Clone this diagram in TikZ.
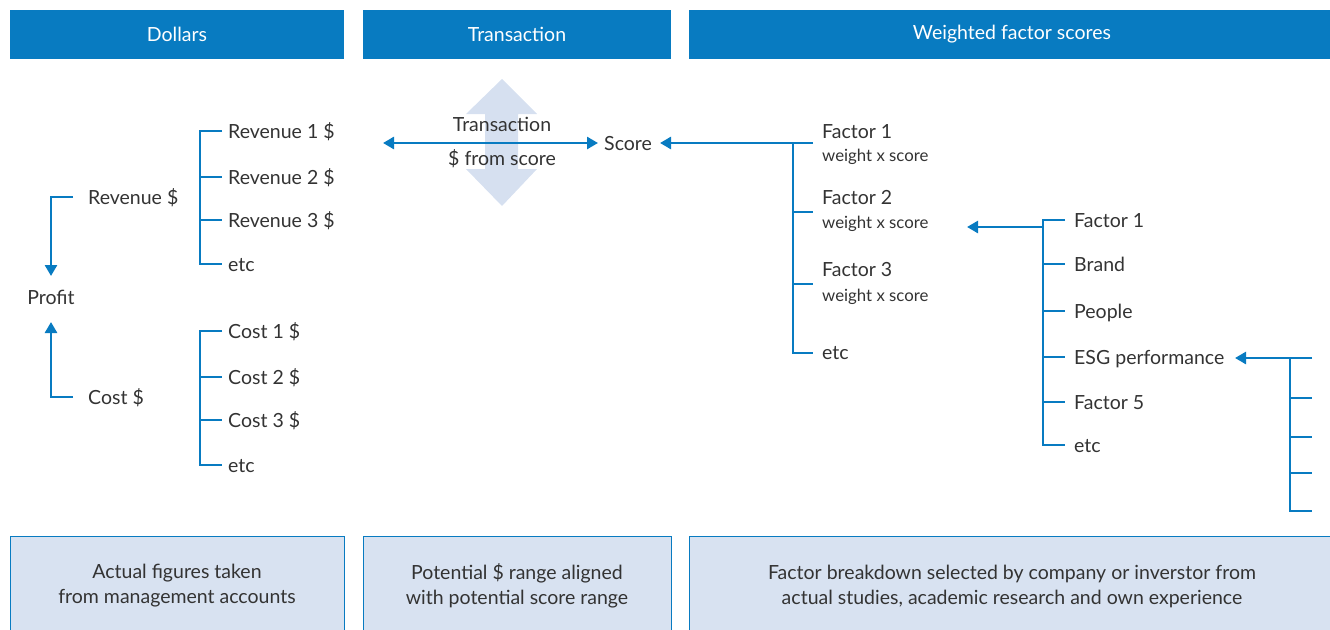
\documentclass[tikz,border=0pt]{standalone}
\usepackage{fontspec}
\setmainfont{Lato}
\usetikzlibrary{arrows.meta,calc}
\definecolor{ubsblue}{RGB}{8,123,193}
\definecolor{paleblue}{RGB}{216,226,241}
\definecolor{bigarrow}{RGB}{214,224,240}
\definecolor{txt}{RGB}{51,51,51}
\begin{document}
\begin{tikzpicture}[x=1pt,y=-1pt,
  lbl/.style={anchor=west,inner sep=0pt,text=txt,text height=14pt,text depth=0pt,font=\fontsize{19.5}{22}\selectfont},
  sub/.style={anchor=west,inner sep=0pt,text=txt,text height=11.5pt,text depth=0pt,font=\fontsize{16.8}{19}\selectfont},
  conn/.style={draw=ubsblue,line width=2.6pt},
  tip/.style={-{Triangle[length=11pt,width=12pt]}},
  head/.style={fill=ubsblue,draw=none,text=white,inner sep=0pt,font=\fontsize{19.5}{22}\selectfont},
  foot/.style={fill=paleblue,draw=ubsblue,line width=1pt,inner sep=0pt,align=center,text=txt,font=\fontsize{19.5}{25}\selectfont}]
\useasboundingbox (0,0) rectangle (1330,629);

% headers
\node[head,minimum width=334pt,minimum height=49pt] (h1) at (177,34.5) {Dollars};
\node[head,minimum width=308pt,minimum height=49pt] (h2) at (517,34.5) {Transaction};
\node[head,minimum width=646pt,minimum height=49pt] (h3) at (1012,34.5) {Weighted factor scores};

% footers
\node[foot,minimum width=334pt,minimum height=100pt] (f1) at (177,586) {Actual figures taken\\from management accounts};
\node[foot,minimum width=308pt,minimum height=100pt] (f2) at (517,586) {Potential \$ range aligned\\with potential score range};
\node[foot,minimum width=646pt,minimum height=100pt] (f3) at (1012,586) {Factor breakdown selected by company or inverstor from\\actual studies, academic research and own experience};

% big vertical double arrow
\fill[bigarrow] (502,79) -- (537,114) -- (518,114) -- (518,169) -- (537,169) -- (502,206)
  -- (466,169) -- (485,169) -- (485,114) -- (466,114) -- cycle;

% left tree
\node[lbl] (rev) at (88,197) {Revenue \$};
\node[lbl,anchor=center] (profit) at (51,297) {Profit};
\node[lbl] (cost) at (88,397) {Cost \$};
\coordinate (ptop) at (51,276);
\coordinate (pbot) at (51,322);
\draw[conn,tip] ($(rev.west)+(-15,0)$) -| (ptop);
\draw[conn,tip] ($(cost.west)+(-15,0)$) -| (pbot);

\node[lbl] (r1) at (228,131) {Revenue 1 \$};
\node[lbl] (r2) at (228,177) {Revenue 2 \$};
\node[lbl] (r3) at (228,220) {Revenue 3 \$};
\node[lbl] (r4) at (228,264) {etc};
\draw[conn] ($(r1.west)+(-6,0)$) -- ($(r1.west)+(-28,0)$) |- ($(r4.west)+(-6,0)$);
\draw[conn] ($(r2.west)+(-28,0)$) -- ($(r2.west)+(-6,0)$);
\draw[conn] ($(r3.west)+(-28,0)$) -- ($(r3.west)+(-6,0)$);

\node[lbl] (c1) at (228,331) {Cost 1 \$};
\node[lbl] (c2) at (228,377) {Cost 2 \$};
\node[lbl] (c3) at (228,420) {Cost 3 \$};
\node[lbl] (c4) at (228,465) {etc};
\draw[conn] ($(c1.west)+(-6,0)$) -- ($(c1.west)+(-28,0)$) |- ($(c4.west)+(-6,0)$);
\draw[conn] ($(c2.west)+(-28,0)$) -- ($(c2.west)+(-6,0)$);
\draw[conn] ($(c3.west)+(-28,0)$) -- ($(c3.west)+(-6,0)$);

% transaction
\node[lbl,anchor=center] (tx) at (502,124) {Transaction};
\node[lbl,anchor=center] (fs) at (502,158) {\$ from score};
\node[lbl] (score) at (604,143) {Score};
\coordinate (dl) at (383,143);
\coordinate (dr) at (598,143);
\draw[conn,{Triangle[length=11pt,width=12pt]}-{Triangle[length=11pt,width=12pt]}] (dl) -- (dr);

% weighted tree
\node[lbl] (w1) at (822,131) {Factor 1};
\node[sub] (w1s) at (822,156) {weight x score};
\node[lbl] (w2) at (822,197) {Factor 2};
\node[sub] (w2s) at (822,223) {weight x score};
\node[lbl] (w3) at (822,269) {Factor 3};
\node[sub] (w3s) at (822,296) {weight x score};
\node[lbl] (w4) at (822,352) {etc};
\coordinate (wb1) at (793,143);
\coordinate (wb2) at (793,212);
\coordinate (wb3) at (793,284);
\coordinate (wb4) at (793,353);
\coordinate (stip) at (660,143);
\draw[conn,tip] ($(wb1)+(20,0)$) -- (stip);
\draw[conn] (wb1) -- (wb4) -- ($(wb4)+(20,0)$);
\draw[conn] (wb2) -- ($(wb2)+(20,0)$);
\draw[conn] (wb3) -- ($(wb3)+(20,0)$);

% factor breakdown tree
\node[lbl] (g1) at (1074,220) {Factor 1};
\node[lbl] (g2) at (1074,264) {Brand};
\node[lbl] (g3) at (1074,311) {People};
\node[lbl] (g4) at (1074,357) {ESG performance};
\node[lbl] (g5) at (1074,402) {Factor 5};
\node[lbl] (g6) at (1074,445) {etc};
\coordinate (gtip) at (967,227);
\coordinate (gj) at (1043,227);
\draw[conn,tip] (gj) -- (gtip);
\draw[conn] ($(g1.west)+(-9,0)$) -- ($(g1.west)+(-31,0)$) |- ($(g6.west)+(-9,0)$);
\foreach \n in {g2,g3,g4,g5}{
  \draw[conn] ($(\n.west)+(-31,0)$) -- ($(\n.west)+(-9,0)$);
}

% ESG sub tree
\coordinate (etip) at (1235,358);
\coordinate (e1) at (1290,358);
\coordinate (e2) at (1290,398);
\coordinate (e3) at (1290,437);
\coordinate (e4) at (1290,473);
\coordinate (e5) at (1290,511);
\draw[conn,tip] ($(e1)+(22,0)$) -- (etip);
\draw[conn] (e1) -- (e5) -- ($(e5)+(22,0)$);
\foreach \c in {e2,e3,e4}{
  \draw[conn] (\c) -- ($(\c)+(22,0)$);
}
\end{tikzpicture}
\end{document}
